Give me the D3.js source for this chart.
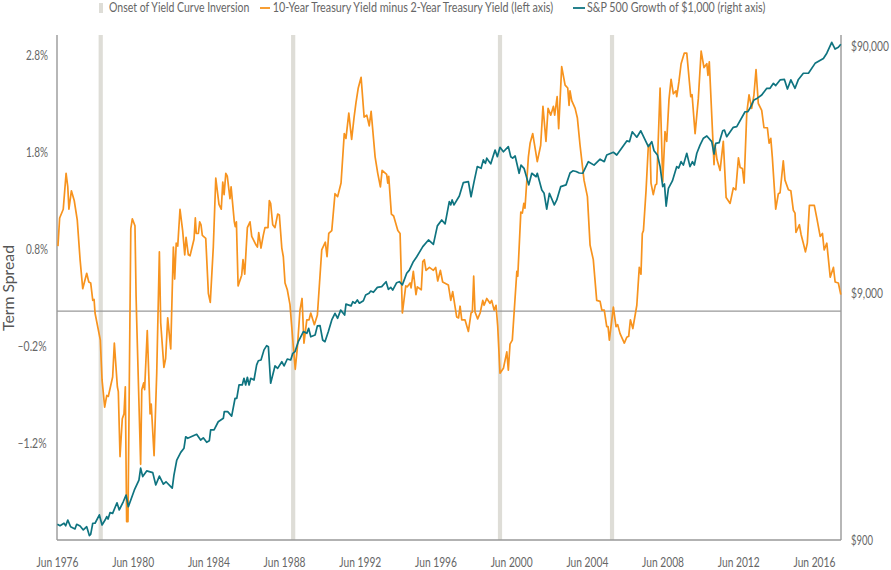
<!DOCTYPE html>
<html><head><meta charset="utf-8">
<script src="https://d3js.org/d3.v7.min.js"></script>
<style>html,body{margin:0;padding:0;background:#fff}svg{display:block}text{font-family:Lato,"Noto Sans",sans-serif}</style>
</head><body><svg id="c" width="891" height="570"></svg>
<script>
// Dates are decimal years; spread in percentage points; S&P 500 as log10(dollars)
const spreadYears=[1976.55,1976.64,1976.83,1976.98,1977.07,1977.13,1977.26,1977.41,1977.57,1977.72,1977.86,1978.07,1978.18,1978.28,1978.39,1978.46,1978.51,1978.79,1978.88,1979.02,1979.13,1979.21,1979.44,1979.53,1979.69,1979.74,1979.83,1979.95,1980.04,1980.11,1980.18,1980.25,1980.40,1980.48,1980.62,1980.68,1980.71,1980.92,1980.98,1981.08,1981.13,1981.27,1981.42,1981.48,1981.63,1981.77,1981.91,1981.98,1982.15,1982.24,1982.35,1982.51,1982.59,1982.65,1982.72,1982.80,1982.88,1983.00,1983.14,1983.25,1983.32,1983.44,1983.53,1983.74,1983.81,1983.86,1983.97,1984.04,1984.11,1984.18,1984.36,1984.50,1984.60,1984.76,1984.89,1985.06,1985.18,1985.26,1985.33,1985.42,1985.50,1985.64,1985.70,1985.87,1985.92,1985.98,1986.07,1986.26,1986.33,1986.42,1986.56,1986.70,1986.79,1987.02,1987.09,1987.16,1987.28,1987.40,1987.49,1987.65,1987.72,1987.79,1987.90,1988.02,1988.16,1988.25,1988.38,1988.46,1988.55,1988.67,1988.81,1988.99,1989.09,1989.20,1989.34,1989.45,1989.55,1989.70,1989.82,1989.91,1990.10,1990.26,1990.49,1990.68,1990.77,1990.86,1991.02,1991.19,1991.33,1991.51,1991.68,1991.77,1991.92,1992.07,1992.20,1992.30,1992.42,1992.57,1992.73,1992.87,1993.00,1993.10,1993.31,1993.45,1993.59,1993.68,1993.92,1993.98,1994.03,1994.17,1994.29,1994.51,1994.63,1994.75,1994.93,1995.01,1995.16,1995.21,1995.33,1995.47,1995.54,1995.75,1995.83,1995.91,1996.00,1996.18,1996.39,1996.51,1996.62,1996.76,1996.88,1997.18,1997.31,1997.41,1997.62,1997.72,1997.80,1997.89,1998.06,1998.24,1998.38,1998.45,1998.52,1998.59,1998.73,1998.86,1999.00,1999.07,1999.21,1999.38,1999.47,1999.60,1999.70,1999.79,1999.91,2000.09,2000.27,2000.35,2000.44,2000.56,2000.80,2000.85,2001.01,2001.09,2001.17,2001.23,2001.41,2001.50,2001.64,2001.88,2002.06,2002.18,2002.34,2002.45,2002.59,2002.73,2002.80,2002.93,2003.01,2003.17,2003.35,2003.49,2003.56,2003.61,2003.70,2003.88,2004.00,2004.14,2004.35,2004.53,2004.67,2004.84,2005.02,2005.20,2005.29,2005.42,2005.55,2005.62,2005.69,2005.90,2006.04,2006.13,2006.25,2006.48,2006.61,2006.71,2006.80,2006.93,2007.14,2007.27,2007.36,2007.43,2007.49,2007.63,2007.75,2007.84,2007.89,2008.01,2008.12,2008.19,2008.37,2008.51,2008.63,2008.72,2008.84,2008.95,2009.07,2009.21,2009.25,2009.37,2009.48,2009.65,2009.78,2009.99,2010.06,2010.22,2010.39,2010.54,2010.69,2010.84,2010.90,2010.97,2011.22,2011.27,2011.38,2011.54,2011.71,2011.86,2012.07,2012.24,2012.37,2012.51,2012.60,2012.72,2012.81,2012.95,2013.07,2013.21,2013.33,2013.44,2013.56,2013.74,2013.86,2014.04,2014.13,2014.22,2014.30,2014.48,2014.62,2014.71,2014.88,2014.97,2015.15,2015.28,2015.41,2015.50,2015.55,2015.73,2015.82,2015.94,2016.05,2016.15,2016.26,2016.52,2016.65,2016.83,2016.95,2017.04,2017.18,2017.36,2017.53,2017.62,2017.79,2017.92];
const spreadValues=[0.83,1.12,1.21,1.58,1.44,1.21,1.40,1.30,1.10,0.69,0.39,0.55,0.46,0.45,0.27,0.28,0.14,-0.14,-0.55,-0.83,-0.71,-0.72,-0.52,-0.17,-0.62,-0.67,-1.34,-0.95,-0.90,-0.62,-2.01,-2.01,1.01,1.11,1.04,0.31,0.07,-1.42,-0.65,-0.58,-0.65,-0.04,-0.90,-0.80,-1.33,-0.48,0.77,0.04,-0.42,-0.33,0.09,-0.23,0.38,0.82,0.49,0.86,0.83,1.21,0.99,0.74,0.92,0.74,0.73,0.90,1.12,0.96,0.96,1.08,1.05,0.94,0.91,0.34,0.25,0.82,1.53,1.26,1.21,1.49,1.36,1.58,1.55,1.32,1.44,1.08,1.03,1.08,0.42,0.53,0.69,0.54,1.02,1.08,0.93,0.84,0.82,0.97,0.81,0.94,1.02,1.02,1.30,1.27,1.05,1.02,1.16,1.15,0.81,0.72,0.45,0.38,0.23,-0.21,-0.44,-0.22,0.17,0.29,-0.17,0.07,0.07,0.14,0.02,0.12,0.79,0.87,0.72,0.96,0.99,1.37,1.34,1.48,1.99,1.94,2.20,1.93,2.16,2.31,2.46,2.57,2.16,2.18,2.07,2.22,1.75,1.58,1.44,1.61,1.57,1.48,1.55,1.16,1.14,0.99,0.96,0.14,0.42,0.41,0.45,0.40,0.57,0.33,0.41,0.38,0.67,0.69,0.58,0.61,0.58,0.61,0.47,0.58,0.46,0.43,0.27,0.36,0.10,0.09,0.21,0.07,0.07,-0.05,0.14,0.15,0.52,0.15,0.08,0.14,0.27,0.22,0.29,0.24,0.27,0.17,0.22,0.00,-0.48,-0.43,-0.26,-0.45,-0.18,-0.14,0.57,0.52,1.18,1.17,1.27,1.22,1.75,1.89,1.99,1.70,1.87,2.27,1.91,2.25,2.18,2.27,2.18,2.37,2.04,2.68,2.49,2.46,2.28,2.43,2.33,2.25,2.15,1.87,1.51,1.34,0.84,0.69,0.27,0.26,0.17,0.17,0.00,0.00,-0.14,0.20,0.00,0.02,-0.07,-0.17,-0.11,-0.10,0.07,-0.02,0.22,0.61,0.54,0.96,0.99,1.41,1.87,1.87,1.48,1.36,1.46,1.47,2.46,1.49,2.01,1.91,2.34,2.55,2.40,2.43,2.37,2.53,2.71,2.82,2.82,2.37,2.39,1.99,2.35,2.84,2.67,2.71,2.59,2.73,1.67,1.87,1.72,1.61,1.91,1.33,1.27,1.43,1.41,1.74,1.64,1.63,1.48,2.20,2.39,2.25,2.39,2.65,2.30,2.23,2.05,2.05,1.89,1.94,1.75,1.21,1.37,1.38,1.71,1.51,1.41,1.40,1.20,1.17,0.97,1.05,0.95,0.86,0.77,0.86,1.25,1.25,1.12,0.93,0.96,0.79,0.86,0.51,0.61,0.46,0.45,0.33];
const sp500Years=[1976.52,1976.66,1976.87,1976.96,1977.07,1977.22,1977.45,1977.54,1977.72,1977.89,1978.07,1978.21,1978.28,1978.39,1978.51,1978.74,1978.88,1979.04,1979.13,1979.20,1979.30,1979.44,1979.67,1979.79,1980.00,1980.15,1980.27,1980.59,1980.83,1980.92,1981.03,1981.24,1981.56,1981.72,1981.91,1982.12,1982.26,1982.59,1982.68,1982.83,1983.04,1983.21,1983.30,1983.41,1983.88,1984.09,1984.23,1984.41,1984.55,1984.62,1984.80,1985.02,1985.29,1985.34,1985.52,1985.73,1985.91,1986.00,1986.12,1986.29,1986.38,1986.47,1986.56,1986.65,1986.74,1986.91,1987.05,1987.14,1987.28,1987.44,1987.58,1987.67,1987.79,1988.02,1988.16,1988.38,1988.50,1988.67,1988.85,1988.96,1989.08,1989.25,1989.34,1989.52,1989.70,1989.80,1989.91,1990.14,1990.26,1990.40,1990.54,1990.66,1990.84,1991.02,1991.19,1991.33,1991.49,1991.70,1991.77,1992.04,1992.13,1992.25,1992.37,1992.48,1992.69,1992.81,1992.99,1993.08,1993.22,1993.43,1993.66,1993.89,1994.01,1994.14,1994.24,1994.45,1994.59,1994.75,1994.98,1995.12,1995.33,1995.51,1995.83,1996.13,1996.39,1996.60,1996.83,1997.01,1997.23,1997.31,1997.38,1997.48,1997.76,1997.97,1998.24,1998.38,1998.54,1998.71,1998.91,1999.03,1999.14,1999.21,1999.42,1999.65,1999.77,1999.91,2000.09,2000.35,2000.48,2000.58,2000.71,2000.92,2001.02,2001.18,2001.43,2001.59,2001.82,2001.88,2002.12,2002.24,2002.38,2002.52,2002.78,2002.91,2003.12,2003.40,2003.61,2003.76,2003.93,2004.10,2004.28,2004.58,2004.88,2005.20,2005.42,2005.55,2005.90,2006.08,2006.61,2006.75,2006.90,2007.14,2007.35,2007.75,2007.93,2008.05,2008.23,2008.37,2008.51,2008.60,2008.69,2008.81,2009.02,2009.25,2009.35,2009.48,2009.60,2009.78,2009.95,2010.08,2010.18,2010.31,2010.48,2010.66,2010.84,2011.10,2011.22,2011.31,2011.49,2011.68,2011.77,2011.89,2012.24,2012.42,2012.86,2013.00,2013.12,2013.33,2013.51,2013.74,2014.01,2014.18,2014.36,2014.48,2014.71,2014.94,2015.10,2015.28,2015.50,2015.68,2015.94,2016.21,2016.56,2017.00,2017.18,2017.44,2017.62,2017.79,2017.92];
const sp500Log10=[3.018,3.012,3.022,3.012,3.035,3.008,2.999,3.018,3.011,2.995,3.008,2.972,2.977,3.022,3.022,3.056,3.015,3.035,3.049,3.039,3.065,3.062,3.105,3.076,3.109,3.136,3.089,3.157,3.197,3.245,3.211,3.234,3.227,3.177,3.213,3.180,3.190,3.164,3.217,3.278,3.309,3.326,3.372,3.366,3.382,3.359,3.368,3.350,3.356,3.400,3.400,3.433,3.447,3.474,3.474,3.456,3.528,3.528,3.582,3.582,3.609,3.582,3.613,3.582,3.609,3.602,3.663,3.680,3.683,3.724,3.741,3.737,3.589,3.659,3.649,3.676,3.659,3.687,3.683,3.710,3.717,3.757,3.771,3.798,3.791,3.811,3.777,3.784,3.821,3.822,3.764,3.757,3.798,3.845,3.872,3.852,3.885,3.865,3.909,3.902,3.919,3.913,3.926,3.913,3.923,3.946,3.953,3.962,3.957,3.977,3.980,4.000,3.969,3.977,3.966,3.996,4.000,3.987,4.034,4.047,4.081,4.101,4.142,4.169,4.151,4.226,4.250,4.234,4.324,4.311,4.331,4.311,4.347,4.401,4.405,4.344,4.405,4.466,4.459,4.493,4.479,4.500,4.477,4.533,4.506,4.544,4.526,4.547,4.506,4.500,4.509,4.439,4.472,4.459,4.392,4.439,4.425,4.439,4.371,4.358,4.294,4.358,4.311,4.331,4.385,4.392,4.440,4.449,4.446,4.440,4.439,4.486,4.472,4.496,4.486,4.513,4.524,4.513,4.570,4.567,4.607,4.585,4.611,4.547,4.567,4.530,4.513,4.466,4.385,4.396,4.306,4.378,4.408,4.466,4.460,4.486,4.472,4.520,4.466,4.486,4.472,4.520,4.553,4.581,4.590,4.567,4.517,4.560,4.563,4.611,4.614,4.587,4.625,4.628,4.688,4.688,4.702,4.736,4.743,4.756,4.783,4.783,4.803,4.794,4.817,4.819,4.780,4.817,4.783,4.819,4.844,4.844,4.884,4.904,4.925,4.969,4.942,4.949,4.961];
const inversionYears=[1978.81,1988.98,1999.91,2005.83];
const xTickYears=[1976.5,1980.5,1984.5,1988.5,1992.5,1996.5,2000.5,2004.5,2008.5,2012.5,2016.5];
const xTickLabels=["Jun 1976","Jun 1980","Jun 1984","Jun 1988","Jun 1992","Jun 1996","Jun 2000","Jun 2004","Jun 2008","Jun 2012","Jun 2016"];
const leftTicks=[2.8,1.8,0.8,-0.2,-1.2];
const leftTickLabels=["2.8%","1.8%","0.8%","\u20130.2%","\u20131.2%"];
const rightTicks=[900,9000,90000];
const rightTickLabels=["$900","$9,000","$90,000"];
const referenceLineValue=0.16;
const legendLabels=["Onset of Yield Curve Inversion","10-Year Treasury Yield minus 2-Year Treasury Yield (left axis)","S&P 500 Growth of $1,000 (right axis)"];

const M={l:57,r:841,t:35,b:540};
const orange="#F7931E",teal="#0F7480",barCol="#DEDDD7",axisCol="#999",textCol="#666";
const svg=d3.select("#c");
const x=d3.scaleLinear().domain([1976.5,2017.93]).range([M.l,M.r]);
const yL=d3.scaleLinear().domain([-2.2,3.0]).range([M.b,M.b-97*5.2]);
const yR=d3.scaleLog().domain([900,90000]).range([M.b,46]);

// squeeze a text horizontally to a target width, pivoting on its own x anchor
function fit(sel,target){sel.each(function(d,i){
  const w=this.getComputedTextLength(),px=+this.getAttribute("x")||0,sx=target(d,i)/w;
  this.setAttribute("transform",`translate(${px},0) scale(${sx},1) translate(${-px},0)`);});}

svg.append("g").selectAll("rect").data(inversionYears).join("rect")
 .attr("x",d=>x(d)-2.1).attr("width",4.2).attr("y",M.t).attr("height",M.b-M.t).attr("fill",barCol);

svg.append("path").datum([referenceLineValue]).attr("d",d=>`M${M.l},${yL(d[0])}H${M.r}`).attr("stroke",axisCol).attr("stroke-width",1.1);

const ax=svg.append("g").attr("transform",`translate(0,${M.b})`).call(d3.axisBottom(x).tickValues(xTickYears).tickFormat((d,i)=>xTickLabels[i]).tickSize(0).tickPadding(17));
const al=svg.append("g").attr("transform",`translate(${M.l},0)`).call(d3.axisLeft(yL).tickValues(leftTicks).tickFormat((d,i)=>leftTickLabels[i]).tickSize(0).tickPadding(9));
const ar=svg.append("g").attr("transform",`translate(${M.r},0)`).call(d3.axisRight(yR).tickValues(rightTicks).tickFormat(d=>rightTickLabels[rightTicks.indexOf(d)]).tickSize(0).tickPadding(10));
[ax,al,ar].forEach(g=>{g.selectAll(".domain").attr("stroke",axisCol).attr("stroke-width",1.4);
 g.selectAll("text").attr("fill",textCol).style("font-size","14px").style("font-family","Lato");});
ax.selectAll("text").call(fit,()=>42);
al.selectAll("text").attr("dx",d=>d<0?-2:0).call(fit,d=>d<0?29:22);
ar.selectAll("text").call(fit,d=>d===90000?38:d===9000?32:22);
ar.select(".domain").attr("d",`M0,${M.t}V${M.b}`);
al.select(".domain").attr("d",`M0,${M.t}V${M.b}`);
ax.select(".domain").attr("d",`M${M.l},0H${M.r}`);

const lineS=d3.line().x((d,i)=>x(spreadYears[i])).y(d=>yL(d));
svg.append("path").datum(spreadValues).attr("d",lineS).attr("fill","none").attr("stroke",orange).attr("stroke-width",1.7).attr("stroke-linejoin","round");
const lineG=d3.line().x((d,i)=>x(sp500Years[i])).y(d=>yR(Math.pow(10,d)));
svg.append("path").datum(sp500Log10).attr("d",lineG).attr("fill","none").attr("stroke",teal).attr("stroke-width",1.7).attr("stroke-linejoin","round");

const ts=svg.append("text").attr("text-anchor","middle").attr("fill","#555").style("font-size","16px").text("Term Spread");
ts.attr("transform",`translate(14,288) rotate(-90) scale(${86/ts.node().getComputedTextLength()},1)`);

const lg=svg.append("g");
const legendX=[109,272.7,587],legendW=[140.5,280.5,178.5];
lg.append("rect").attr("x",99).attr("y",3).attr("width",4).attr("height",10).attr("fill",barCol);
lg.append("line").attr("x1",260).attr("x2",270).attr("y1",8).attr("y2",8).attr("stroke",orange).attr("stroke-width",1.8);
lg.append("line").attr("x1",573).attr("x2",585).attr("y1",8).attr("y2",8).attr("stroke",teal).attr("stroke-width",1.8);
lg.selectAll("text").data(legendLabels).join("text").attr("x",(d,i)=>legendX[i]).attr("y",12).attr("fill",textCol).style("font-size","13px").text(d=>d)
 .call(fit,(d,i)=>legendW[i]);
</script></body></html>
